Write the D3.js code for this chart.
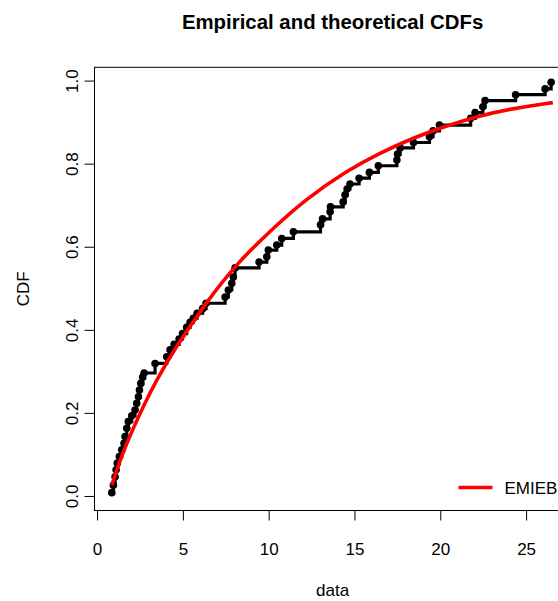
<!DOCTYPE html>
<html>
<head>
<meta charset="utf-8">
<script src="https://cdn.jsdelivr.net/npm/d3@7"></script>
<style>
  html, body { margin: 0; padding: 0; background: #fff; }
  svg { display: block; }
  text { font-family: "Liberation Sans", Arial, Helvetica, sans-serif; fill: #000; }
</style>
</head>
<body>
<svg id="chart" width="558" height="601"></svg>
<script>
// ---- data ----
const obsX = [0.86,0.95,1.05,1.11,1.18,1.30,1.44,1.57,1.63,1.73,
              1.82,2.02,2.21,2.31,2.41,2.47,2.55,2.66,2.74,3.38,
              4.06,4.25,4.49,4.78,4.98,5.22,5.42,5.61,5.83,6.15,
              6.35,7.46,7.65,7.85,7.94,8.04,9.44,9.89,9.98,10.47,
              10.76,11.44,13.02,13.14,13.58,13.60,14.34,14.45,14.57,14.74,
              15.27,15.87,16.39,17.47,17.51,17.66,18.44,19.37,19.58,19.95,
              21.77,22.03,22.48,22.61,24.39,26.11,26.46];
const obsF = [0.008,0.026,0.046,0.063,0.079,0.095,0.111,0.127,0.143,0.163,
              0.179,0.193,0.207,0.223,0.239,0.255,0.271,0.286,0.296,0.319,
              0.335,0.352,0.365,0.378,0.391,0.406,0.418,0.428,0.440,0.451,
              0.464,0.479,0.496,0.512,0.527,0.549,0.563,0.576,0.592,0.604,
              0.620,0.636,0.653,0.667,0.684,0.696,0.708,0.725,0.739,0.751,
              0.765,0.779,0.795,0.809,0.823,0.838,0.851,0.865,0.879,0.893,
              0.909,0.923,0.937,0.952,0.966,0.980,0.996];
const fitX = [0.86,1.53,2.86,3.48,4.45,6.39,8.14,10.27,12.12,14.55,16.49,18.43,20.18,22.32,24.26,26.56];
const fitF = [0.026,0.111,0.231,0.279,0.350,0.468,0.560,0.645,0.713,0.783,0.826,0.862,0.889,0.916,0.933,0.947];
const xTicks = [0, 5, 10, 15, 20, 25];
const yTicks = [0, 0.2, 0.4, 0.6, 0.8, 1.0];
const legendLabels = ["EMIEB"];
const titleText = "Empirical and theoretical CDFs";
const xLabel = "data";
const yLabel = "CDF";

// ---- layout ----
const svg = d3.select("#chart");
const plotL = 94.5, plotR = 570.7, plotT = 67.3, plotB = 510.5;
const x = d3.scaleLinear().domain([-0.15, 27.6]).range([plotL, plotR]);
const y = d3.scaleLinear().domain([-0.035, 1.032]).range([plotB, plotT]);
const baseFont = 17;

// title
svg.append("text")
  .attr("x", (plotL + plotR) / 2).attr("y", 29)
  .attr("text-anchor", "middle")
  .style("font-size", (baseFont * 1.2) + "px").style("font-weight", "bold")
  .text(titleText);

// axes
const xAxis = svg.append("g").attr("transform", `translate(0,${plotB})`)
  .call(d3.axisBottom(x).tickValues(xTicks).tickSize(10).tickSizeOuter(0).tickPadding(20).tickFormat(d3.format("d")));
const yAxis = svg.append("g").attr("transform", `translate(${plotL},0)`)
  .call(d3.axisLeft(y).tickValues(yTicks).tickSize(10).tickSizeOuter(0).tickFormat(d3.format(".1f")));
[xAxis, yAxis].forEach(g => {
  g.select(".domain").remove();
  g.selectAll(".tick line").attr("stroke", "#000").attr("stroke-width", 1);
  g.selectAll(".tick text").style("font-size", baseFont + "px")
    .style("font-family", '"Liberation Sans", Arial, Helvetica, sans-serif').attr("fill", "#000");
});
xAxis.selectAll(".tick text").attr("dy", null).attr("y", 44.5);
yAxis.selectAll(".tick text")
  .attr("x", null).attr("dy", null)
  .attr("text-anchor", "middle")
  .attr("transform", "translate(-16.5,0) rotate(-90)")
  .attr("y", 0);

// axis lines between first and last tick (like R)
svg.append("line")
  .attr("x1", x(xTicks[0])).attr("x2", x(xTicks[xTicks.length - 1]))
  .attr("y1", plotB).attr("y2", plotB).attr("stroke", "#000").attr("stroke-width", 1);
svg.append("line")
  .attr("x1", plotL).attr("x2", plotL)
  .attr("y1", y(yTicks[0])).attr("y2", y(yTicks[yTicks.length - 1])).attr("stroke", "#000").attr("stroke-width", 1);

// axis titles
svg.append("text")
  .attr("x", (plotL + plotR) / 2).attr("y", 596)
  .attr("text-anchor", "middle").style("font-size", baseFont + "px").text(xLabel);
svg.append("text")
  .attr("transform", `translate(29,${(plotT + plotB) / 2}) rotate(-90)`)
  .attr("text-anchor", "middle").style("font-size", baseFont + "px").text(yLabel);

// plotting region
const clip = svg.append("defs").append("clipPath").attr("id", "clip");
clip.append("rect").attr("x", plotL).attr("y", plotT).attr("width", plotR - plotL).attr("height", plotB - plotT);
const plot = svg.append("g").attr("clip-path", "url(#clip)");

// empirical step function
const obs = obsX.map((v, i) => ({ x: v, f: obsF[i] }));
const step = d3.line().x(d => x(d.x)).y(d => y(d.f)).curve(d3.curveStepAfter);
plot.append("path").datum(obs)
  .attr("d", step).attr("fill", "none").attr("stroke", "#000").attr("stroke-width", 3.2);
plot.selectAll("circle.obs").data(obs).enter().append("circle")
  .attr("class", "obs").attr("cx", d => x(d.x)).attr("cy", d => y(d.f)).attr("r", 3.8).attr("fill", "#000");

// theoretical CDF
const fit = fitX.map((v, i) => ({ x: v, f: fitF[i] }));
plot.append("path").datum(fit)
  .attr("d", d3.line().x(d => x(d.x)).y(d => y(d.f)).curve(d3.curveBasis))
  .attr("fill", "none").attr("stroke", "#FF0000").attr("stroke-width", 3.6).attr("stroke-linecap", "butt");

// box
svg.append("rect").attr("x", plotL).attr("y", plotT).attr("width", plotR - plotL).attr("height", plotB - plotT)
  .attr("fill", "none").attr("stroke", "#000").attr("stroke-width", 1);

// legend
const leg = svg.append("g");
legendLabels.forEach((lab, i) => {
  leg.append("line").attr("x1", 458.5).attr("x2", 492.5).attr("y1", 487.5).attr("y2", 487.5)
    .attr("stroke", "#FF0000").attr("stroke-width", 3.6);
  leg.append("text").attr("x", 504.5).attr("y", 493.5).style("font-size", baseFont + "px").text(lab);
});
</script>
</body>
</html>
